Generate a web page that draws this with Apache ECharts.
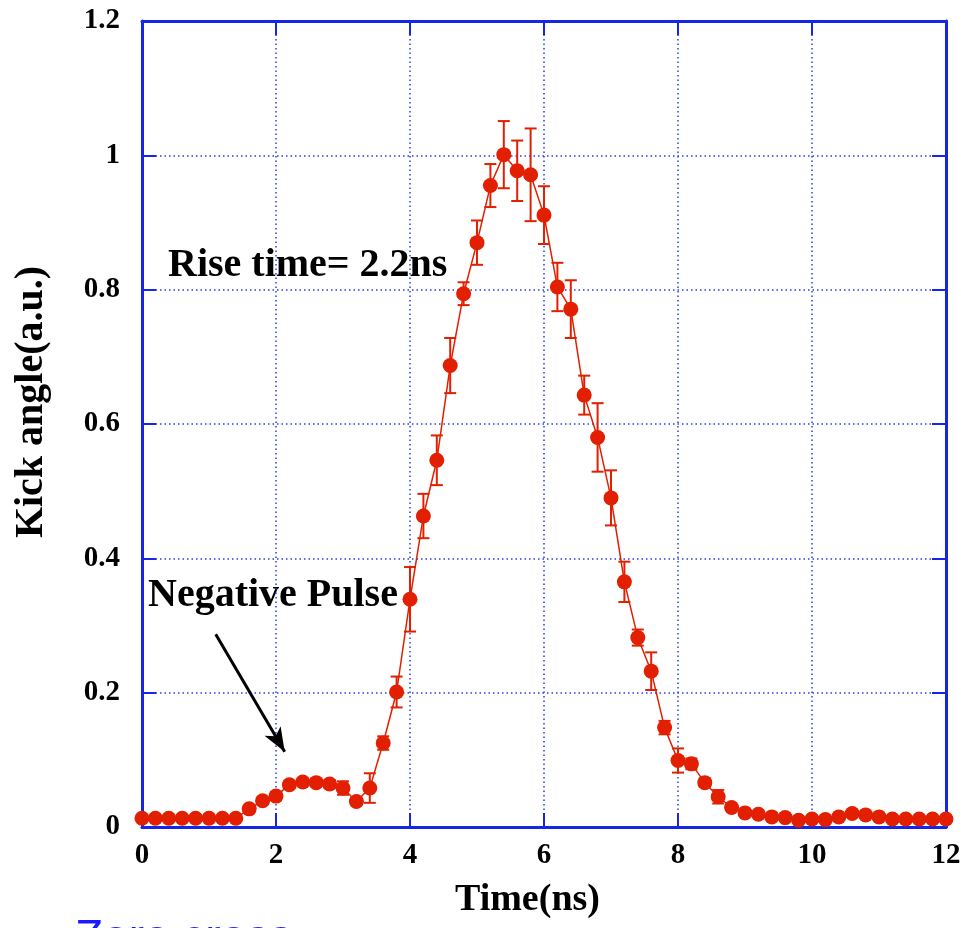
<!DOCTYPE html>
<html>
<head>
<meta charset="utf-8">
<script src="https://cdn.jsdelivr.net/npm/echarts@6/dist/echarts.min.js"></script>
<style>
html,body{margin:0;padding:0;background:#fff;}
#c{width:965px;height:928px;}
</style>
</head>
<body>
<div id="c"></div>
<script>
const times = [0,0.2,0.4,0.6,0.8,1.0,1.2,1.4,1.6,1.8,2.0,2.2,2.4,2.6,2.8,3.0,3.2,3.4,3.6,3.8,4.0,4.2,4.4,4.6,4.8,5.0,5.2,5.4,5.6,5.8,6.0,6.2,6.4,6.6,6.8,7.0,7.2,7.4,7.6,7.8,8.0,8.2,8.4,8.6,8.8,9.0,9.2,9.4,9.6,9.8,10.0,10.2,10.4,10.6,10.8,11.0,11.2,11.4,11.6,11.8,12.0];
const kick = [0.013,0.013,0.013,0.013,0.013,0.013,0.013,0.013,0.027,0.039,0.046,0.063,0.067,0.066,0.064,0.058,0.038,0.058,0.125,0.201,0.339,0.463,0.546,0.687,0.794,0.870,0.955,1.001,0.977,0.971,0.911,0.804,0.771,0.643,0.580,0.490,0.365,0.282,0.232,0.148,0.099,0.094,0.066,0.045,0.029,0.021,0.019,0.015,0.014,0.010,0.012,0.011,0.015,0.020,0.018,0.015,0.012,0.012,0.012,0.012,0.012];
const errs = [0.004,0.004,0.004,0.004,0.004,0.004,0.004,0.004,0.004,0.005,0.006,0.005,0.005,0.005,0.006,0.010,0.005,0.022,0.010,0.023,0.048,0.033,0.037,0.041,0.017,0.033,0.032,0.050,0.045,0.069,0.043,0.036,0.043,0.029,0.051,0.041,0.030,0.012,0.028,0.010,0.018,0.008,0.006,0.010,0.004,0.004,0.004,0.004,0.004,0.004,0.004,0.004,0.004,0.004,0.004,0.004,0.004,0.004,0.004,0.004,0.004];
const xTicks = {min:0, max:12, interval:2};
const yTicks = {min:0, max:1.2, interval:0.2};

const RED = '#e21f00';
const BLUE = '#1626e8';
const GRIDBLUE = '#2a3cf0';
const SERIF = '"Liberation Serif","Times New Roman",serif';

const lineData = times.map((t,i)=>[t,kick[i]]);
const errData = times.map((t,i)=>[t,kick[i]-errs[i],kick[i]+errs[i]]);

const chart = echarts.init(document.getElementById('c'));
function axisCommon(){
  return {
    axisLine:{show:true,onZero:false,lineStyle:{color:BLUE,width:3}},
    axisTick:{show:true,inside:true,length:14,lineStyle:{color:BLUE,width:2}},
  };
}
chart.setOption({
  backgroundColor:'#fff',
  animation:false,
  grid:{left:142,right:19,top:21,bottom:101,containLabel:false},
  xAxis:[
    Object.assign({type:'value',position:'bottom',min:xTicks.min,max:xTicks.max,interval:xTicks.interval,
      axisLabel:{color:'#000',fontFamily:SERIF,fontWeight:'bold',fontSize:29,margin:14},
      splitLine:{show:true,lineStyle:{color:GRIDBLUE,width:1.5,type:[1.5,3]}}},axisCommon()),
    Object.assign({type:'value',position:'top',min:xTicks.min,max:xTicks.max,interval:xTicks.interval,
      axisLabel:{show:false},splitLine:{show:false}},axisCommon())
  ],
  yAxis:[
    Object.assign({type:'value',position:'left',min:yTicks.min,max:yTicks.max,interval:yTicks.interval,
      axisLabel:{color:'#000',fontFamily:SERIF,fontWeight:'bold',fontSize:29,margin:22,
        formatter:v=>String(Math.round(v*10)/10)},
      splitLine:{show:true,lineStyle:{color:GRIDBLUE,width:1.5,type:[1.5,3]}}},axisCommon()),
    Object.assign({type:'value',position:'right',min:yTicks.min,max:yTicks.max,interval:yTicks.interval,
      axisLabel:{show:false},splitLine:{show:false}},axisCommon())
  ],
  series:[
    {
      type:'custom',
      xAxisIndex:0,yAxisIndex:0,
      data:errData,
      z:3,
      renderItem:function(params,api){
        const x=api.value(0);
        const lo=api.coord([x,api.value(1)]);
        const hi=api.coord([x,api.value(2)]);
        const hw=6;
        const st={stroke:RED,lineWidth:2,fill:null};
        return {type:'group',children:[
          {type:'line',shape:{x1:lo[0],y1:lo[1],x2:hi[0],y2:hi[1]},style:st},
          {type:'line',shape:{x1:lo[0]-hw,y1:lo[1],x2:lo[0]+hw,y2:lo[1]},style:st},
          {type:'line',shape:{x1:hi[0]-hw,y1:hi[1],x2:hi[0]+hw,y2:hi[1]},style:st}
        ]};
      }
    },
    {
      type:'line',
      xAxisIndex:0,yAxisIndex:0,
      data:lineData,
      z:4,
      clip:false,
      symbol:'circle',
      symbolSize:15,
      itemStyle:{color:RED},
      lineStyle:{color:RED,width:1.5},
      markLine:{
        silent:true,
        symbol:['none','arrow'],
        symbolSize:[14,24],
        label:{show:false},
        lineStyle:{color:'#000',width:3,type:'solid'},
        data:[
          [{coord:[1.10,0.287]},{coord:[2.13,0.112]}],
          [{coord:[1.67,-0.109]},{coord:[3.07,0.009]}]
        ]
      }
    }
  ],
  graphic:[
    {type:'text',x:168,y:266,style:{text:'Rise time= 2.2ns',font:'bold 40px '+SERIF,fill:'#000',textAlign:'left',textVerticalAlign:'middle'}},
    {type:'text',x:148,y:596,style:{text:'Negative Pulse',font:'bold 40px '+SERIF,fill:'#000',textAlign:'left',textVerticalAlign:'middle'}},
    {type:'text',x:455,y:900,style:{text:'Time(ns)',font:'bold 38px '+SERIF,fill:'#000',textAlign:'left',textVerticalAlign:'middle'}},
    {type:'text',x:32,y:402,rotation:Math.PI/2,style:{text:'Kick angle(a.u.)',font:'bold 40px '+SERIF,fill:'#000',textAlign:'center',textVerticalAlign:'middle'}},
    {type:'text',x:75,y:939,style:{text:'Zero cross',font:'46px "Liberation Sans",Arial,sans-serif',fill:'#1a1aff',textAlign:'left',textVerticalAlign:'middle'}}
  ]
});
</script>
</body>
</html>
